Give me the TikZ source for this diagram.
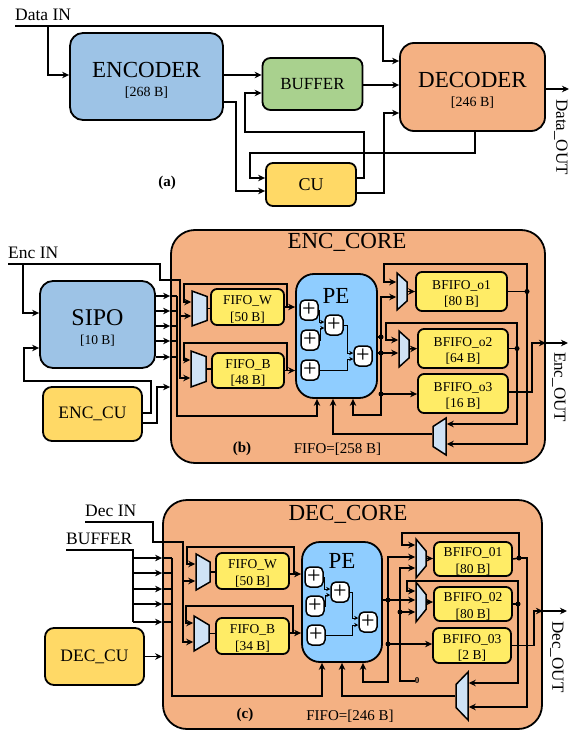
\documentclass[tikz,border=0pt]{standalone}
\usepackage{fontspec}
\setmainfont{Liberation Serif}
\usetikzlibrary{shapes.geometric, arrows.meta}
\definecolor{encblue}{HTML}{9DC3E6}
\definecolor{bufgreen}{HTML}{A9D18E}
\definecolor{coreorange}{HTML}{F4B183}
\definecolor{cuyellow}{HTML}{FFD966}
\definecolor{fifoyellow}{HTML}{FFEC66}
\definecolor{pesky}{HTML}{8FCDFF}
\definecolor{muxblue}{HTML}{CFE2F5}
\newcommand{\fz}[1]{\fontsize{#1}{#1}\selectfont}
\newcommand{\bigtop}{\rule{0pt}{22pt}}
\newcommand{\fifotop}{\rule{0pt}{14pt}}
\tikzset{
  wire/.style={line width=1.5pt},
  thinwire/.style={line width=0.7pt, >={Stealth[length=4pt,width=4pt]}},
  blockbox/.style={draw, line width=1.8pt, align=center, inner sep=0pt},
  fifobox/.style={blockbox, fill=fifoyellow, rounded corners=6pt, font=\fz{13.5}},
  plusbox/.style={draw, line width=1.5pt, fill=white, rounded corners=5pt, minimum width=18pt, minimum height=20pt, inner sep=0pt, font=\fz{24}},
  muxshape/.style n args={3}{draw, line width=1.5pt, fill=muxblue, trapezium, trapezium angle=#1, inner xsep=#2, inner ysep=#3},
  muxin/.style n args={3}{muxshape={#1}{#2}{#3}, rotate=-90},
  muxout/.style n args={3}{muxshape={#1}{#2}{#3}, rotate=90},
  dotn/.style={circle, fill=black, minimum size=5pt, inner sep=0pt},
  sigtxt/.style={anchor=south west, inner xsep=0pt, inner ysep=5pt, font=\fz{17.5}},
  outtxt/.style={rotate=-90, font=\fz{17}},
  captxt/.style={font=\fz{15}\bfseries},
  notetxt/.style={font=\fz{15}}
}
\begin{document}
\begin{tikzpicture}[>={Stealth[length=7pt,width=6.5pt]}, x=1pt, y=-1pt]
\useasboundingbox (0,0) rectangle (569,733);

\node[blockbox, fill=encblue, rounded corners=13pt, minimum width=153pt, minimum height=87pt] (enc) at (146.5,76.5) {\fz{23}\bigtop ENCODER\\[7pt]\fz{14}[268 B]};
\node[blockbox, fill=bufgreen, rounded corners=8pt, minimum width=100pt, minimum height=52pt] (buf) at (312.5,84) {\fz{17}BUFFER};
\node[blockbox, fill=coreorange, rounded corners=14pt, minimum width=145pt, minimum height=88pt] (dec) at (472.5,87) {\fz{23}\bigtop DECODER\\[7pt]\fz{14}[246 B]};
\node[blockbox, fill=cuyellow, rounded corners=7pt, minimum width=90pt, minimum height=43pt] (cu) at (311,184.5) {\fz{18}CU};
\node[sigtxt] (datain) at (15,26) {Data IN};
\node[outtxt] (dataoutl) at (561,137) {Data\_OUT};
\node[captxt] (capa) at (167,183) {(a)};
\coordinate (dataout) at (569,89);
\draw[wire,->] (datain.south west) -- (383,26) -- (383,61) -- ([yshift=26pt]dec.west);
\draw[wire,->] (48,26) |- ([yshift=1.5pt]enc.west);
\draw[wire,->] ([yshift=1.5pt]enc.east) -- ([yshift=9pt]buf.west);
\draw[wire,->] ([yshift=-25.5pt]enc.east) -- (236,102) |- ([yshift=-6.5pt]cu.west);
\draw[wire,->] ([yshift=-1pt]buf.east) -- ([yshift=2pt]dec.west);
\draw[wire,->] ([yshift=6.5pt]cu.east) -- (364,178) -- (364,132) -- (245,132) |- ([yshift=-9pt]buf.west);
\draw[wire,->] ([yshift=-8.5pt]cu.east) -- (384,193) |- ([yshift=-26pt]dec.west);
\draw[wire,->] ([xshift=2.5pt]dec.south) -- (475,153) -- (250,153) |- ([yshift=6.5pt]cu.west);
\draw[wire,->] ([yshift=-2pt]dec.east) -- (dataout);

\node[blockbox, fill=coreorange, rounded corners=24pt, minimum width=374pt, minimum height=233pt] (enccore) at (358,346.5) {};
\node[font=\fz{23}] (enccorel) at (347,242) {ENC\_CORE};
\node[blockbox, fill=encblue, rounded corners=13pt, minimum width=115pt, minimum height=87pt] (sipo) at (97.5,324.5) {\fz{24}\bigtop SIPO\\[7pt]\fz{13.5}[10 B]};
\node[blockbox, fill=cuyellow, rounded corners=9pt, minimum width=99pt, minimum height=54pt] (enccu) at (92.5,414) {\fz{17.5}ENC\_CU};
\node[sigtxt] (encin) at (8,264) {Enc IN};
\node[muxin={70}{12pt}{7.5pt}] (muxw) at (199.5,308.5) {};
\node[muxin={70}{12.5pt}{7.5pt}] (muxb) at (198.5,369) {};
\node[fifobox, minimum width=73pt, minimum height=36pt] (fifow) at (247.5,307) {\fifotop FIFO\_W\\[3pt][50 B]};
\node[fifobox, minimum width=72pt, minimum height=35pt] (fifob) at (248,370.5) {\fifotop FIFO\_B\\[3pt][48 B]};
\node[blockbox, fill=pesky, rounded corners=18pt, minimum width=81pt, minimum height=124pt] (pe) at (336.5,336) {};
\node[font=\fz{23}] (pel) at (336,296) {PE};
\node[plusbox] (pa) at (309,310) {+};
\node[plusbox] (pb) at (310,340) {+};
\node[plusbox] (pc) at (310,370) {+};
\node[plusbox] (pd) at (334,325) {+};
\node[plusbox] (pf) at (363,356) {+};
\node[muxin={48}{9.5pt}{5pt}] (muxoa) at (402,291.5) {};
\node[muxin={48}{9pt}{5pt}] (muxob) at (404,349) {};
\node[fifobox, minimum width=91pt, minimum height=39pt] (bfa) at (461.5,291.5) {\fifotop BFIFO\_o1\\[3pt][80 B]};
\node[fifobox, minimum width=90pt, minimum height=39pt] (bfb) at (463,348.5) {\fifotop BFIFO\_o2\\[3pt][64 B]};
\node[fifobox, minimum width=90pt, minimum height=39pt] (bfc) at (463,393.5) {\fifotop BFIFO\_o3\\[3pt][16 B]};
\node[muxout={57}{10pt}{6.5pt}] (muxlo) at (439.5,436.5) {};
\node[dotn] (da) at (381,337) {};
\node[dotn] (db) at (381,353) {};
\node[dotn] (dc) at (381,394) {};
\node[dotn] (dd) at (527,291.5) {};
\node[dotn] (de) at (517,348.5) {};
\node[notetxt] (fifonb) at (337.5,449) {FIFO=[258 B]};
\node[captxt] (capb) at (242,449) {(b)};
\node[outtxt] (encoutl) at (559,387) {Enc\_OUT};
\coordinate (encout) at (568,343);
\draw[wire,->] (encin.south west) -- (160,264) -- (160,280) -- (180,280) |- ([yshift=-9pt]muxb.south);
\draw[wire,->] (180,316) -- ([yshift=-7.5pt]muxw.south);
\draw[wire,->] (23,264) |- ([yshift=11.5pt]sipo.west);
\draw[wire,->] ([yshift=1pt]enccu.east) -- (151,413) -- (151,381) -- (24,381) |- ([yshift=-23.5pt]sipo.west);
\draw[wire,->] ([yshift=-9pt]enccu.east) -- (157,423) |- (enccore.west |- 157,387);
\draw[wire,->] (sipo.east |- 0,296) -- (enccore.west |- 0,296);
\draw[wire,->] (sipo.east |- 0,311) -- (enccore.west |- 0,311);
\draw[wire,->] (sipo.east |- 0,326) -- (enccore.west |- 0,326);
\draw[wire,->] (sipo.east |- 0,341) -- (enccore.west |- 0,341);
\draw[wire,->] (sipo.east |- 0,357) -- (enccore.west |- 0,357);
\draw[wire] (enccore.west |- 0,296) -- (177,296);
\draw[wire] (enccore.west |- 0,311) -- (177,311);
\draw[wire] (enccore.west |- 0,326) -- (177,326);
\draw[wire] (enccore.west |- 0,341) -- (177,341);
\draw[wire] (enccore.west |- 0,357) -- (177,357);
\draw[wire,->] (177,296) |- (317,416) -- ([xshift=-19.5pt]pe.south);
\draw[wire] (muxw.north) -- (fifow.west |- muxw.north);
\draw[wire] (muxb.north) -- (fifob.west |- muxb.north);
\draw[wire,->] (fifow.east) -- (pe.west |- fifow.east);
\draw[wire,->] (fifob.east) -- (pe.west |- fifob.east);
\draw[wire,->] (287,307) -- (287,284) -- (184,284) -- (184,302) -- ([yshift=6.5pt]muxw.south);
\draw[wire,->] (287,370.5) -- (287,343) -- (184,343) -- (184,360) -- ([yshift=9pt]muxb.south);
\draw[thinwire,->] (pa.east) -- (319,310) |- ([yshift=3pt]pd.west);
\draw[thinwire,->] (pb.east) -- (320,340) |- ([yshift=-3pt]pd.west);
\draw[thinwire,->] (pd.east) -- (347,325) |- ([yshift=3pt]pf.west);
\draw[thinwire,->] (pc.east) -- (347,370) |- ([yshift=-3pt]pf.west);
\draw[wire] (pe.east |- da) -- (da.center);
\draw[wire] (pe.east |- db) -- (db.center);
\draw[wire] (da.center) -- (dc.center);
\draw[wire,->] (da.center) |- ([yshift=-5.5pt]muxoa.south);
\draw[wire,->] (db.center) -- ([yshift=-4pt]muxob.south);
\draw[wire,->] (dc.center) -- (bfc.west |- dc);
\draw[wire,->] (dc.center) |- (353,415) -- ([xshift=16.5pt]pe.south);
\draw[wire,->] (muxoa.north) -- (bfa.west);
\draw[wire,->] (muxob.north) -- (bfb.west);
\draw[wire] (bfa.east) -- (dd.center);
\draw[wire] (bfb.east) -- (de.center);
\draw[wire,->] (dd.center) -- (527,264) -- (384,264) -- (384,282) -- ([yshift=9.5pt]muxoa.south);
\draw[wire,->] (de.center) -- (517,323) -- (386,323) -- (386,340) -- ([yshift=9pt]muxob.south);
\draw[wire,->] (dd.center) |- ([yshift=-7.5pt]muxlo.south);
\draw[wire,->] (de.center) |- ([yshift=12.5pt]muxlo.south);
\draw[wire,->] ([yshift=2.5pt]muxlo.north) -| ([xshift=-3.5pt]pe.south);
\draw[wire,->] ([yshift=1.5pt]bfc.east) -- (532,392) -- (532,343) -- (enccore.east |- 0,343);
\draw[wire,->] (enccore.east |- 0,343) -- (encout);

\node[blockbox, fill=coreorange, rounded corners=24pt, minimum width=379pt, minimum height=229pt] (deccore) at (352.5,614.5) {};
\node[font=\fz{23}] (deccorel) at (348,514) {DEC\_CORE};
\node[blockbox, fill=cuyellow, rounded corners=9pt, minimum width=99pt, minimum height=57pt] (deccu) at (94.5,656.5) {\fz{17.5}DEC\_CU};
\node[sigtxt] (decin) at (85,522) {Dec IN};
\node[sigtxt] (bufin) at (66,550) {BUFFER};
\node[muxin={60}{10pt}{7pt}] (muxwc) at (203,572) {};
\node[muxin={59}{8.5pt}{7.5pt}] (muxbc) at (201.5,633.5) {};
\node[fifobox, minimum width=73pt, minimum height=36pt] (fifowc) at (252.5,571) {\fifotop FIFO\_W\\[3pt][50 B]};
\node[fifobox, minimum width=73pt, minimum height=36pt] (fifobc) at (252.5,636) {\fifotop FIFO\_B\\[3pt][34 B]};
\node[blockbox, fill=pesky, rounded corners=18pt, minimum width=80pt, minimum height=120pt] (pec) at (342,602) {};
\node[font=\fz{23}] (pecl) at (342,561) {PE};
\node[plusbox] (qa) at (314,577) {+};
\node[plusbox] (qb) at (315,606) {+};
\node[plusbox] (qc) at (316,635) {+};
\node[plusbox] (qd) at (340,592) {+};
\node[plusbox] (qf) at (368,622) {+};
\node[muxin={40}{7.5pt}{5pt}] (muxoac) at (421,558.5) {};
\node[muxin={39}{7.5pt}{5pt}] (muxobc) at (421,602) {};
\node[fifobox, minimum width=78pt, minimum height=34pt] (bfac) at (473,559) {\fifotop BFIFO\_01\\[3pt][80 B]};
\node[fifobox, minimum width=78pt, minimum height=34pt] (bfbc) at (473,604) {\fifotop BFIFO\_02\\[3pt][80 B]};
\node[fifobox, minimum width=78pt, minimum height=35pt] (bfcc) at (472,645.5) {\fifotop BFIFO\_03\\[3pt][2 B]};
\node[muxout={44}{11.5pt}{6pt}] (muxloc) at (462,696) {};
\node[dotn] (ga) at (388,600) {};
\node[dotn] (gb) at (388,644) {};
\node[dotn] (gc) at (400,612) {};
\node[dotn] (gd) at (519,558) {};
\node[dotn] (ge) at (518,604) {};
\node[font=\fz{9}\bfseries, inner sep=0pt] (zero) at (417,681) {0};
\node[notetxt] (fifonc) at (350,716) {FIFO=[246 B]};
\node[captxt] (capc) at (245,715) {(c)};
\node[outtxt] (decoutl) at (557,657) {Dec\_OUT};
\coordinate (decout) at (567,611);
\draw[wire,->] (decin.south west) -- (153,522) -- (153,542) -- (183,542) |- ([yshift=-8.5pt]muxbc.south);
\draw[wire,->] (183,581) -- ([yshift=-9pt]muxwc.south);
\draw[wire] (bufin.south west) -- (133,550) -- (133,622);
\draw[wire,->] (133,558) -- (deccore.west |- 0,558);
\draw[wire,->] (133,573) -- (deccore.west |- 0,573);
\draw[wire,->] (133,589) -- (deccore.west |- 0,589);
\draw[wire,->] (133,604) -- (deccore.west |- 0,604);
\draw[wire,->] (133,622) -- (deccore.west |- 0,622);
\draw[wire] (deccore.west |- 0,558) -- (172,558);
\draw[wire] (deccore.west |- 0,573) -- (172,573);
\draw[wire] (deccore.west |- 0,589) -- (172,589);
\draw[wire] (deccore.west |- 0,604) -- (172,604);
\draw[wire] (deccore.west |- 0,622) -- (172,622);
\draw[wire,->] (172,558) |- (322,696) -- ([xshift=-20pt]pec.south);
\draw[wire,->] (deccu.east) -- (deccore.west |- deccu.east);
\draw[wire] (muxwc.north) -- (fifowc.west |- muxwc.north);
\draw[wire] (muxbc.north) -- (fifobc.west |- muxbc.north);
\draw[wire,->] ([yshift=-3pt]fifowc.east) -- (pec.west |- 0,574);
\draw[wire,->] ([yshift=3pt]fifobc.east) -- (pec.west |- 0,633);
\draw[wire,->] (294,574) -- (294,547) -- (187,547) -- (187,564) -- ([yshift=8pt]muxwc.south);
\draw[wire,->] (293,633) -- (293,606) -- (186,606) -- (186,623) -- ([yshift=10.5pt]muxbc.south);
\draw[thinwire,->] (qa.east) -- (324,577) |- ([yshift=3pt]qd.west);
\draw[thinwire,->] (qb.east) -- (325,606) |- ([yshift=-3pt]qd.west);
\draw[thinwire,->] (qd.east) -- (352,592) |- ([yshift=4pt]qf.west);
\draw[thinwire,->] (qc.east) -- (352,635) |- ([yshift=-3pt]qf.west);
\draw[wire] (pec.east |- ga) -- (ga.center);
\draw[wire] (ga.center) -- (gb.center);
\draw[wire,->] (ga.center) |- ([yshift=1.5pt]muxoac.south);
\draw[wire,->] (ga.center) -- ([yshift=2pt]muxobc.south);
\draw[wire,->] (gb.center) -- (bfcc.west |- gb);
\draw[wire,->] (gb.center) |- (363,682) -- ([xshift=21pt]pec.south);
\draw[wire,->] (zero.west) -- (400,681) -- (400,568) -- ([yshift=-9.5pt]muxoac.south);
\draw[wire,->] (gc.center) -- ([yshift=-10pt]muxobc.south);
\draw[wire,->] (muxoac.north) -- (bfac.west |- muxoac.north);
\draw[wire,->] (muxobc.north) -- (bfbc.west |- muxobc.north);
\draw[wire] (bfac.east) -- (gd.center);
\draw[wire] (bfbc.east) -- (ge.center);
\draw[wire,->] (gd.center) |- (402,533) -- (402,545) -- ([yshift=13.5pt]muxoac.south);
\draw[wire,->] (ge.center) -- (518,581) -- (407,581) -- (407,591) -- ([yshift=11pt]muxobc.south);
\draw[wire,->] (gd.center) -- (527,558) |- ([yshift=-11pt]muxloc.south);
\draw[wire,->] (ge.center) |- ([yshift=13pt]muxloc.south);
\draw[wire,->] (muxloc.north) -| (pec.south);
\draw[wire,->] (bfcc.east) -- (534,645.5) -- (534,611) -- (deccore.east |- 0,611);
\draw[wire,->] (deccore.east |- 0,611) -- (decout);
\end{tikzpicture}
\end{document}
